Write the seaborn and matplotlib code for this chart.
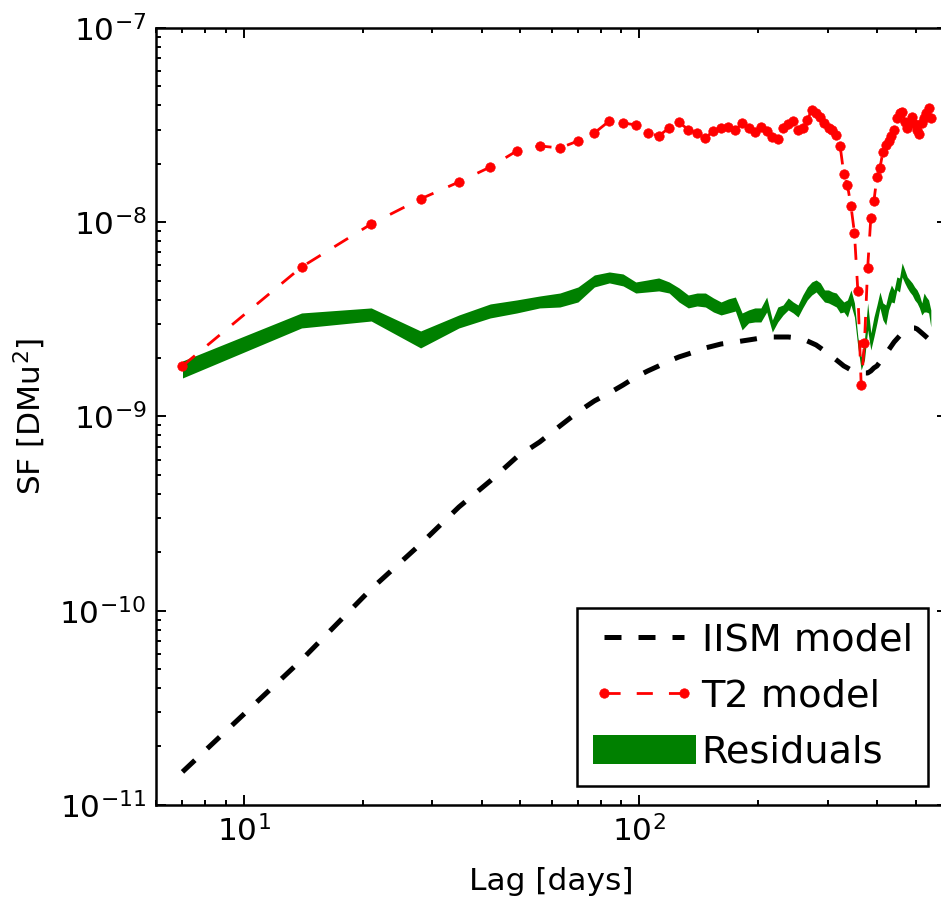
import numpy as np
import matplotlib
matplotlib.use("Agg")
import matplotlib.pyplot as plt
from matplotlib.ticker import FixedLocator, NullFormatter, LogFormatterSciNotation
import seaborn as sns

# Lag grid (days)
lag_days = [7, 14, 21, 28, 35, 42, 49, 56, 63, 70,
            77, 84, 91, 98, 105, 112, 119, 126, 133, 140,
            147, 154, 161, 168, 175, 182, 189, 196, 203, 210,
            217, 224, 231, 238, 245, 252, 259, 266, 273, 280,
            287, 294, 301, 308, 315, 322, 329, 336, 343, 350,
            357, 364, 371, 378, 385, 392, 399, 406, 413, 420,
            427, 434, 441, 448, 455, 462, 469, 476, 483, 490,
            497, 504, 511, 518, 525, 532, 539, 546]

# Structure functions, in units of 1e-9 DMu^2
iism_model = [0.0148, 0.0558, 0.1294, 0.2205, 0.342, 0.466, 0.618, 0.739, 0.893, 1.055,
              1.202, 1.321, 1.452, 1.597, 1.714, 1.820, 1.931, 2.025, 2.098, 2.174,
              2.253, 2.307, 2.361, 2.389, 2.418, 2.447, 2.476, 2.505, 2.535, 2.550,
              2.565, 2.565, 2.565, 2.565, 2.550, 2.535, 2.505, 2.447, 2.389, 2.334,
              2.253, 2.174, 2.098, 2.025, 1.954, 1.886, 1.820, 1.778, 1.735, 1.714,
              1.694, 1.684, 1.674, 1.674, 1.714, 1.778, 1.820, 1.908, 2.001, 2.098,
              2.199, 2.307, 2.418, 2.505, 2.596, 2.658, 2.722, 2.788, 2.820, 2.855,
              2.855, 2.820, 2.755, 2.690, 2.627, 2.565, 2.505, 2.447]

t2_model = [1.82, 5.88, 9.79, 13.18, 16.11, 19.24, 23.27, 24.7, 24.1, 26.2,
            28.8, 33.2, 32.4, 31.7, 28.8, 27.8, 30.6, 32.8, 29.9, 28.8,
            27.2, 29.5, 30.6, 30.9, 29.9, 32.4, 30.6, 29.2, 30.9, 29.5,
            27.5, 26.8, 30.6, 32.1, 33.2, 29.9, 30.6, 33.6, 37.8, 36.5,
            34.8, 32.4, 30.6, 29.9, 28.1, 24.7, 17.7, 15.55, 12.12, 8.81,
            4.43, 1.453, 2.39, 5.81, 10.5, 12.86, 17.1, 19.0, 23.0, 25.0,
            26.2, 27.8, 29.9, 34.4, 36.5, 36.9, 32.8, 30.6, 32.8, 34.8,
            32.1, 29.9, 28.5, 32.4, 34.4, 36.5, 38.7, 34.4]

residuals_hi = [1.931, 3.41, 3.62, 2.755, 3.33, 3.795, 3.98, 4.17, 4.32, 4.64,
                5.35, 5.545, 5.415, 4.925, 5.045, 5.165, 4.925, 4.59, 4.22, 4.32,
                4.32, 4.075, 3.885, 4.03, 4.12, 3.41, 3.535, 3.62, 3.62, 4.12,
                3.14, 3.66, 3.75, 4.075, 3.885, 3.75, 4.22, 4.64, 4.925, 5.045,
                4.87, 4.48, 4.48, 4.375, 4.32, 4.075, 3.885, 3.98, 4.48, 3.84,
                2.566, 2.025, 2.477, 3.84, 2.69, 3.25, 3.75, 4.375, 3.84, 3.75,
                4.32, 4.75, 4.48, 5.225, 5.165, 6.17, 5.68, 5.225, 5.045, 4.87,
                4.64, 4.48, 4.22, 3.84, 4.32, 4.12, 3.98, 3.535]

residuals_lo = [1.578, 2.855, 3.10, 2.253, 2.855, 3.215, 3.41, 3.62, 3.66, 3.885,
                4.64, 4.87, 4.70, 4.32, 4.375, 4.43, 4.32, 3.885, 3.62, 3.705,
                3.66, 3.45, 3.33, 3.41, 3.49, 2.79, 3.03, 3.065, 3.065, 3.45,
                2.72, 3.065, 3.33, 3.535, 3.41, 3.25, 3.62, 3.98, 4.22, 4.375,
                4.12, 3.885, 3.84, 3.75, 3.66, 3.41, 3.45, 3.25, 3.75, 3.25,
                2.28, 1.735, 1.954, 2.79, 2.199, 2.566, 3.03, 3.62, 3.14, 2.958,
                3.535, 3.885, 3.84, 4.48, 4.375, 5.225, 4.87, 4.59, 4.375, 4.22,
                3.98, 3.84, 3.62, 3.33, 3.45, 3.45, 3.41, 2.89]

# Axis decades
x_major = [10, 100]
y_major = [1e-11, 1e-10, 1e-9, 1e-8, 1e-7]

UNIT = 1e-9

sns.set_style("white")
plt.rcParams["font.family"] = ["DejaVu Sans"]
plt.rcParams["mathtext.fontset"] = "dejavusans"
plt.rcParams["text.color"] = "black"
plt.rcParams["axes.labelcolor"] = "black"
plt.rcParams["xtick.color"] = "black"
plt.rcParams["ytick.color"] = "black"

fig = plt.figure(figsize=(9.41, 8.99), dpi=100)
ax = fig.add_axes([0.1658, 0.1046, 0.8406, 0.8643])

x = np.array(lag_days, dtype=float)
sns.lineplot(x=x, y=np.array(iism_model) * UNIT, ax=ax, color="black",
             linewidth=3.6, linestyle=(0, (3.4, 3.4)), label="IISM model")
sns.lineplot(x=x, y=np.array(t2_model) * UNIT, ax=ax, color="red",
             linewidth=2.0, linestyle=(0, (5.8, 5.8)), marker="o",
             markersize=6.8, markeredgecolor="red", markeredgewidth=0.5,
             label="T2 model")
ax.fill_between(x, np.array(residuals_lo) * UNIT, np.array(residuals_hi) * UNIT,
                color="green", linewidth=0, label="Residuals")

ax.set_xscale("log")
ax.set_yscale("log")
ax.set_xlim(6, 600)
ax.set_ylim(1e-11, 1e-7)

# Major ticks on the decades, unlabelled minor ticks in between
ax.xaxis.set_major_locator(FixedLocator(x_major))
ax.yaxis.set_major_locator(FixedLocator(y_major))
ax.xaxis.set_major_formatter(LogFormatterSciNotation())
ax.yaxis.set_major_formatter(LogFormatterSciNotation())
x_minor = [m * d for d in (1, 10, 100) for m in range(2, 10) if 6 <= m * d <= 600]
y_minor = [m * d for d in (1e-11, 1e-10, 1e-9, 1e-8) for m in range(2, 10)]
ax.xaxis.set_minor_locator(FixedLocator(x_minor))
ax.yaxis.set_minor_locator(FixedLocator(y_minor))
ax.xaxis.set_minor_formatter(NullFormatter())
ax.yaxis.set_minor_formatter(NullFormatter())

for side in ["left", "right", "top", "bottom"]:
    ax.spines[side].set_visible(True)
    ax.spines[side].set_linewidth(1.8)
    ax.spines[side].set_color("black")

ax.tick_params(axis="both", which="both", direction="in",
               top=True, right=True, bottom=True, left=True,
               labelsize=22.5, colors="black")
ax.tick_params(axis="both", which="major", length=7.2, width=1.4, pad=7)
ax.tick_params(axis="both", which="minor", length=3.6, width=1.4)

ax.set_xlabel("Lag [days]", fontsize=22.5, labelpad=14, color="black")
ax.set_ylabel("SF [DMu$^2$]", fontsize=22.5, labelpad=8, color="black")

leg = ax.legend(loc="lower right", fontsize=27.5, numpoints=2,
                handlelength=2.7, handleheight=0.8, handletextpad=0.15,
                labelspacing=0.52, borderpad=0.4, borderaxespad=0.5,
                frameon=True, fancybox=False, shadow=False, framealpha=1)
leg.get_frame().set_edgecolor("black")
leg.get_frame().set_linewidth(1.8)
for txt in leg.get_texts():
    txt.set_color("black")

fig.savefig("out.png", dpi=100, facecolor="white")
